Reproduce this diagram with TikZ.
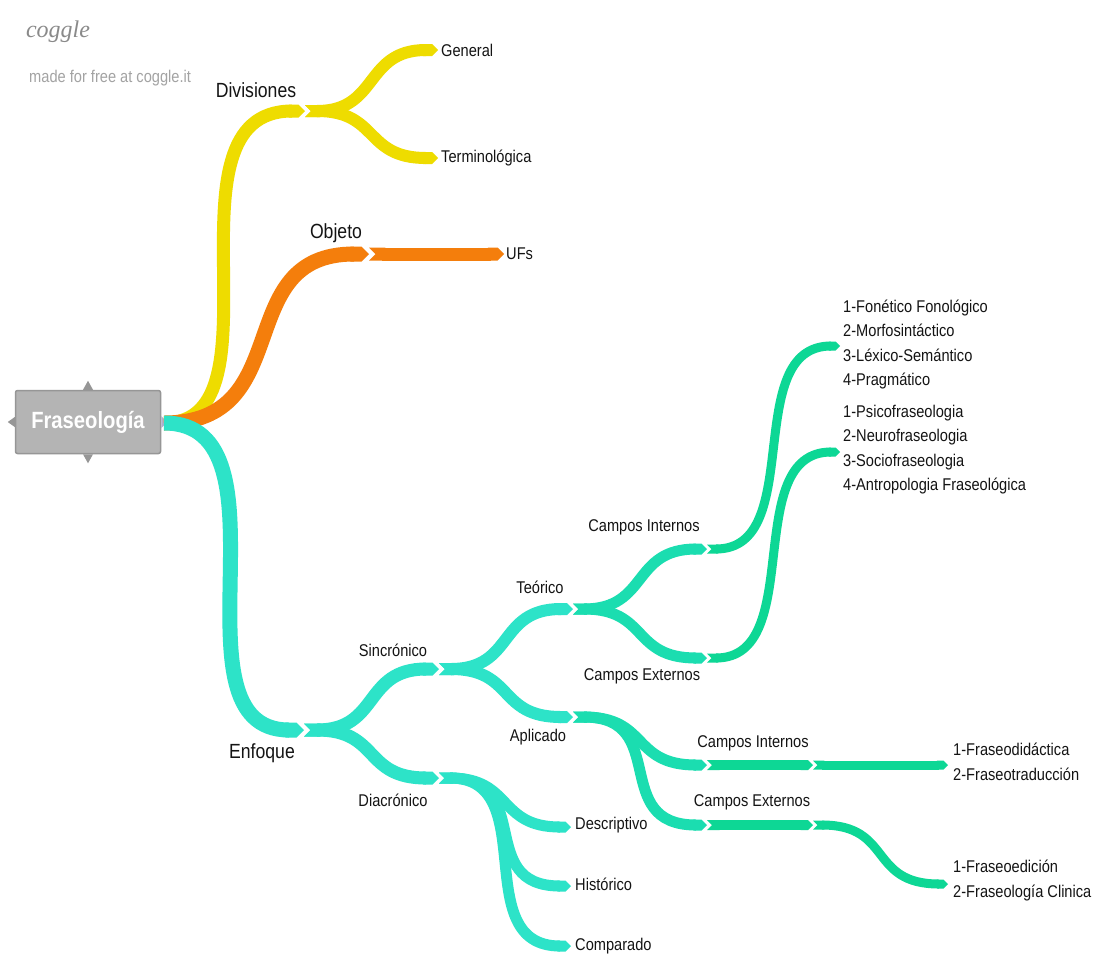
\documentclass[tikz,border=0pt]{standalone}
\usepackage{fontspec}
\setmainfont[FakeStretch=0.86]{Liberation Sans}
\newfontfamily\cgfont{Liberation Serif}
\usetikzlibrary{arrows.meta}
\definecolor{yel}{HTML}{EEDC00}
\definecolor{org}{HTML}{F47E0C}
\definecolor{tqa}{HTML}{2DE3C8}
\definecolor{tqb}{HTML}{1BDDB0}
\definecolor{tqc}{HTML}{0DD795}
\definecolor{ink}{HTML}{141414}
\definecolor{boxgray}{HTML}{B4B4B4}
\definecolor{boxedge}{HTML}{969696}
\definecolor{mark}{HTML}{A3A3A3}
\tikzset{
  seg/.style={{Triangle Cap[reversed]}-{Triangle Cap}},
  seg0/.style={-{Triangle Cap}},
  lbl/.style={font=\fontsize{17}{18}\selectfont, text=ink, inner sep=0pt},
  biglbl/.style={font=\fontsize{20.5}{22}\selectfont, text=ink, inner sep=0pt},
  leaf/.style={lbl, anchor=west},
  lst/.style={leaf, align=left, font=\fontsize{17}{24.6}\selectfont},
  rootbox/.style={rectangle, rounded corners=2, fill=boxgray, draw=boxedge,
    line width=1.5, minimum width=145, minimum height=63, text=white,
    font=\bfseries\fontsize{23.5}{25}\selectfont},
  notch/.style={fill=boxedge}
}
\begin{document}
\begin{tikzpicture}[x=1pt,y=-1pt]
\useasboundingbox[fill=white] (0,0) rectangle (1095,959);

% watermark
\node[font=\cgfont\itshape\fontsize{24}{24}\selectfont, text=mark!85!black] (cg) at (58,32) {coggle};
\node[font=\fontsize{17}{18}\selectfont, text=mark, anchor=west, inner sep=0pt] (cgm) at (29,78) {made for free at coggle.it};

% central topic
\node[rootbox] (root) at (88,422) {Fraseología};
\fill[notch] (root.north) ++(-5,0) -- ++(5,-9) -- ++(5,9) -- cycle;
\fill[notch] (root.south) ++(-5,0) -- ++(5,9) -- ++(5,-9) -- cycle;
\fill[notch] (root.west) ++(0,-5) -- ++(-7,5) -- ++(7,5) -- cycle;
\fill[fill=boxedge!80!blue!60!white] (root.east) ++(0,-6) -- ++(6,6) -- ++(-6,6) -- cycle;

% junctions
\coordinate (r) at (164,423);
\coordinate (div) at (305,111);
\coordinate (gen) at (438,50);
\coordinate (ter) at (438,158);
\coordinate (obj) at (369,254);
\coordinate (ufs) at (504,254);
\coordinate (enf) at (304,730);
\coordinate (sin) at (439,669);
\coordinate (dia) at (439,778);
\coordinate (teo) at (573,609);
\coordinate (apl) at (573,717);
\coordinate (ci1) at (707,549);
\coordinate (ce1) at (707,658);
\coordinate (l1) at (840,346);
\coordinate (l2) at (840,452);
\coordinate (ci2) at (707,765);
\coordinate (ci2b) at (813,765);
\coordinate (l3) at (948,765);
\coordinate (ce2) at (707,825);
\coordinate (ce2b) at (813,825);
\coordinate (l4) at (948,884);
\coordinate (des) at (571,827);
\coordinate (his) at (571,886);
\coordinate (com) at (571,946);

% yellow branch
\draw[seg0, yel, line width=13] (r) .. controls +(125,0) and +(-150,0) .. (div);
\draw[seg, yel, line width=12] (div) .. controls +(74,0) and +(-74,0) .. (gen);
\draw[seg, yel, line width=12] (div) .. controls +(74,0) and +(-74,0) .. (ter);

% orange branch
\draw[seg0, org, line width=15] (r) .. controls +(135,0) and +(-140,0) .. (obj);
\draw[seg, org, line width=13] (obj) -- (ufs);

% teal branch
\draw[seg0, tqa, line width=15] (r) .. controls +(135,0) and +(-140,0) .. (enf);
\draw[seg, tqa, line width=13] (enf) .. controls +(76,0) and +(-76,0) .. (sin);
\draw[seg, tqa, line width=13] (enf) .. controls +(76,0) and +(-76,0) .. (dia);
\draw[seg, tqa, line width=12] (sin) .. controls +(76,0) and +(-76,0) .. (teo);
\draw[seg, tqa, line width=12] (sin) .. controls +(76,0) and +(-76,0) .. (apl);
\draw[seg, tqb, line width=11] (teo) .. controls +(76,0) and +(-76,0) .. (ci1);
\draw[seg, tqb, line width=11] (teo) .. controls +(76,0) and +(-76,0) .. (ce1);
\draw[seg, tqc, line width=9] (ci1) .. controls +(100,0) and +(-100,0) .. (l1);
\draw[seg, tqc, line width=9] (ce1) .. controls +(100,0) and +(-100,0) .. (l2);
\draw[seg, tqb, line width=11] (apl) .. controls +(76,0) and +(-76,0) .. (ci2);
\draw[seg, tqb, line width=11] (apl) .. controls +(98,0) and +(-98,0) .. (ce2);
\draw[seg, tqc, line width=10] (ci2) -- (ci2b);
\draw[seg, tqc, line width=9] (ci2b) -- (l3);
\draw[seg, tqc, line width=10] (ce2) -- (ce2b);
\draw[seg, tqc, line width=9] (ce2b) .. controls +(80,0) and +(-80,0) .. (l4);
\draw[seg, tqa, line width=11] (dia) .. controls +(74,0) and +(-74,0) .. (des);
\draw[seg, tqa, line width=11] (dia) .. controls +(97,0) and +(-97,0) .. (his);
\draw[seg, tqa, line width=11] (dia) .. controls +(104,0) and +(-104,0) .. (com);

% labels
\node[biglbl] (tDiv) at (256,90) {Divisiones};
\node[biglbl] (tObj) at (336,233) {Objeto};
\node[biglbl] (tEnf) at (262,753) {Enfoque};
\node[leaf] (tGen) at (441,50) {General};
\node[leaf] (tTer) at (441,158) {Terminológica};
\node[leaf] (tUfs) at (506,254) {UFs};
\node[lbl] (tSin) at (393,650) {Sincrónico};
\node[lbl] (tDia) at (393,800) {Diacrónico};
\node[lbl] (tTeo) at (540,587) {Teórico};
\node[lbl] (tApl) at (538,737) {Aplicado};
\node[lbl] (tCi1) at (644,527) {Campos Internos};
\node[lbl] (tCe1) at (642,676) {Campos Externos};
\node[lbl] (tCi2) at (753,743) {Campos Internos};
\node[lbl] (tCe2) at (752,802) {Campos Externos};
\node[leaf] (tDes) at (575,825) {Descriptivo};
\node[leaf] (tHis) at (575,884) {Histórico};
\node[leaf] (tCom) at (575,946) {Comparado};
\node[lst] (tL1) at (843,344.5) {1-Fonético Fonológico\\2-Morfosintáctico\\3-Léxico-Semántico\\4-Pragmático};
\node[lst] (tL2) at (843,449.5) {1-Psicofraseologia\\2-Neurofraseologia\\3-Sociofraseologia\\4-Antropologia Fraseológica};
\node[lst] (tL3) at (953,762) {1-Fraseodidáctica\\2-Fraseotraducción};
\node[lst] (tL4) at (953,880.5) {1-Fraseoedición\\2-Fraseología Clinica};
\end{tikzpicture}
\end{document}
